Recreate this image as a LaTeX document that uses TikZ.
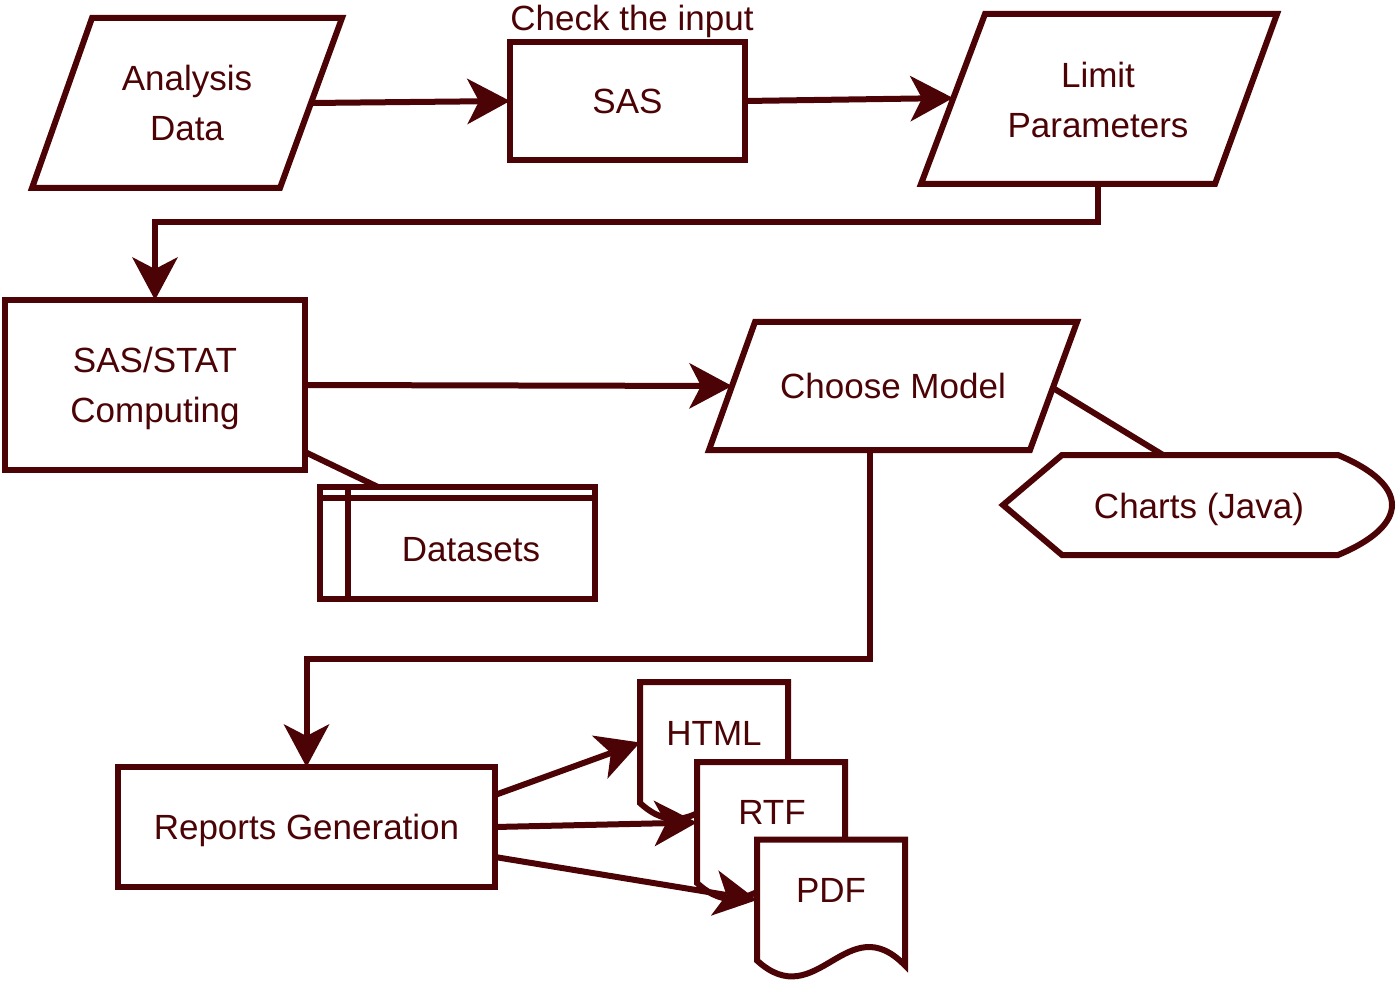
\documentclass[tikz,border=0pt]{standalone}
\usepackage{fontspec}
\setmainfont{Liberation Sans}
\usetikzlibrary{arrows.meta}
\definecolor{mr}{RGB}{75,3,5}
\begin{document}
\begin{tikzpicture}[x=1pt,y=-1pt,
  every node/.style={font=\fontsize{35}{50}\selectfont, text=mr},
  shp/.style={draw=mr, line width=6pt, line join=miter, fill=white},
  box/.style={shp, rectangle, inner sep=0pt, outer sep=0pt, align=center},
  docb/.style={rectangle, inner sep=0pt, outer sep=0pt, minimum width=148pt, minimum height=121pt},
  txt/.style={inner sep=0pt, align=center},
  con/.style={draw=mr, line width=6pt},
  arr/.style={con, -{Stealth[length=43pt,width=46pt,inset=12pt,line width=0pt]}},
]
\useasboundingbox (0,0) rectangle (1397,981);

% Analysis Data
\draw[shp] (92,18) -- (342,18) -- (280,188) -- (32,188) -- cycle;
\coordinate (adE) at (311,103);
\node[txt] (ad) at (187,103) {Analysis\\Data};

% SAS
\node[box, minimum width=235pt, minimum height=118pt] (sas) at (627.5,101) {SAS};
\node[txt, anchor=base] (chk) at (632,31) {Check the input};

% Limit Parameters
\draw[shp] (985,14) -- (1277,14) -- (1215,184) -- (921,184) -- cycle;
\coordinate (lpW) at (953,98);
\coordinate (lpS) at (1098,184);
\coordinate (b1) at (1098,222);
\node[txt] (lp) at (1098,100) {Limit\\Parameters};

% SAS/STAT
\node[box, minimum width=300pt, minimum height=170pt] (stat) at (155,385) {};
\node[txt] (statt) at (155,388.5) {SAS/STAT\\Computing};
\coordinate (statSE) at (305,452);

% Choose Model
\draw[shp] (755,322) -- (1077,322) -- (1030,450) -- (709,450) -- cycle;
\coordinate (cmW) at (732,386);
\coordinate (cmE) at (1053,388);
\coordinate (cmS) at (870,450);
\coordinate (b2) at (870,659);
\node[txt, anchor=base] (cm) at (893,398.5) {Choose Model};

% Charts
\draw[shp] (1003,505) -- (1062,455) -- (1338,455) .. controls (1410,485) and (1410,525) .. (1338,555) -- (1062,555) -- cycle;
\coordinate (chN) at (1163,455);
\node[txt, anchor=base] (ch) at (1199,518.5) {Charts (Java)};

% Datasets
\node[box, minimum width=275pt, minimum height=112pt] (ds) at (457.5,543) {};
\draw[con] ([yshift=-11pt]ds.north west) -- ([yshift=-11pt]ds.north east);
\draw[con] ([xshift=28pt]ds.north west) -- ([xshift=28pt]ds.south west);
\coordinate (dsN) at (378,487);
\node[txt, anchor=base] (dst) at (471,561.5) {Datasets};

% Reports
\node[box, minimum width=377pt, minimum height=120pt, text depth=0pt] (rep) at (306.5,827) {Reports Generation};

% Documents
\node[docb] (html) at (714,742.5) {};
\draw[shp] (html.north west) -- (html.north east) -- ([yshift=-5pt]html.south east) .. controls +(-58,-60) and +(60,55) .. (html.south west) -- cycle;
\node[txt, anchor=base] (htmlt) at (714,745.5) {HTML};

\node[docb] (rtf) at (771,822.5) {};
\draw[shp] (rtf.north west) -- (rtf.north east) -- ([yshift=-5pt]rtf.south east) .. controls +(-58,-60) and +(60,55) .. (rtf.south west) -- cycle;
\node[txt, anchor=base] (rtft) at (772,824.5) {RTF};

\node[docb] (pdf) at (831,900) {};
\draw[shp] (pdf.north west) -- (pdf.north east) -- ([yshift=-5pt]pdf.south east) .. controls +(-58,-60) and +(60,55) .. (pdf.south west) -- cycle;
\node[txt, anchor=base] (pdft) at (831,902.5) {PDF};

% Connectors
\draw[arr] (adE) -- (sas.west);
\draw[arr] (sas.east) -- (lpW);
\draw[arr] (lpS) -- (b1) -| (stat.north);
\draw[arr] (stat.east) -- (cmW);
\draw[con] (cmE) -- (chN);
\draw[con] (statSE) -- (dsN);
\draw[arr] (cmS) -- (b2) -| (rep.north);
\draw[arr] ([yshift=32pt]rep.east) -- (html.west);
\draw[arr] (rep.east) -- (rtf.west);
\draw[arr] ([yshift=-30pt]rep.east) -- (pdf.west);
\end{tikzpicture}
\end{document}
